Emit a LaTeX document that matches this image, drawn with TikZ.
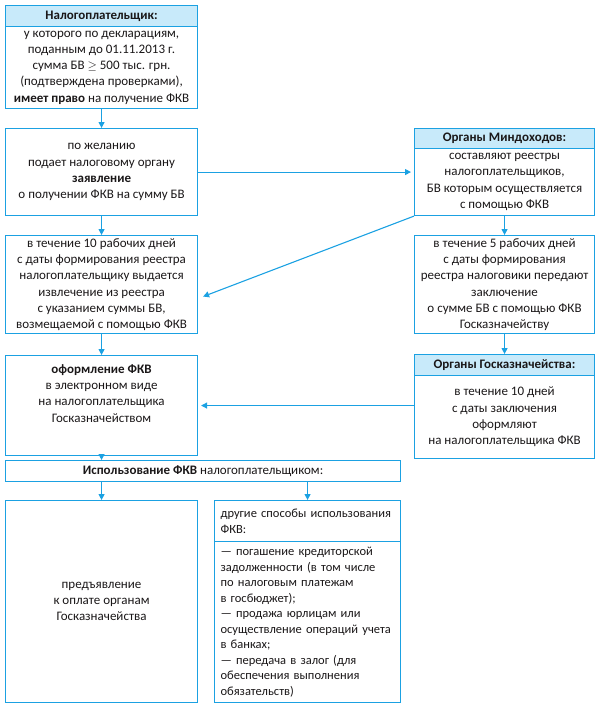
\documentclass[tikz,border=0pt]{standalone}
\usepackage{fontspec}
\setmainfont{Carlito}
\usetikzlibrary{arrows.meta,calc}
\definecolor{ln}{HTML}{1BA1E2}
\definecolor{hd}{HTML}{C8EAFA}
\definecolor{tx}{HTML}{1A1718}
\begin{document}
\begin{tikzpicture}[x=1pt,y=-1pt,
 box/.style={draw=ln,line width=1.1pt,anchor=north west,inner sep=0pt,align=center,text=tx,font=\fontsize{13}{16.3}\selectfont},
 hbox/.style={box,fill=hd,font=\bfseries\fontsize{13}{16}\selectfont},
 lbox/.style={box,align=left,inner xsep=6pt,text width=174pt,font=\fontsize{12.5}{15.5}\selectfont},
 arr/.style={draw=ln,line width=1.1pt,-{Triangle[width=6pt,length=6pt]}}]
\useasboundingbox (0,0) rectangle (599,705);
% left column
\node[hbox,minimum width=192pt,minimum height=21pt] (h1) at (5,5) {Налогоплательщик:};
\node[box,minimum width=192pt,minimum height=82pt] (b1) at (5,26) {у которого по декларациям,\\поданным до 01.11.2013 г.\\сумма БВ $\geq$ 500 тыс. грн.\\(подтверждена проверками),\\\textbf{имеет право} на получение ФКВ};
\node[box,minimum width=192pt,minimum height=87pt] (b2) at (5,128) {по желанию\\подает налоговому органу\\\textbf{заявление}\\о получении ФКВ на сумму БВ};
\node[box,minimum width=192pt,minimum height=98pt] (b3) at (5,235) {в течение 10 рабочих дней\\с даты формирования реестра\\налогоплательщику выдается\\извлечение из реестра\\с указанием суммы БВ,\\возмещаемой с помощью ФКВ};
\node[box,minimum width=192pt,minimum height=100pt] (b4) at (5,355) {\textbf{оформление ФКВ}\\в электронном виде\\на налогоплательщика\\Госказначейством\\[8pt]};
\node[box,minimum width=395pt,minimum height=21pt] (b5) at (5,460) {\textbf{Использование ФКВ} налогоплательщиком:};
\node[box,minimum width=192pt,minimum height=202pt] (b6) at (5,500) {предъявление\\к оплате органам\\Госказначейства};
\node[lbox,minimum height=41pt] (b7a) at (214,500) {другие способы использования\\ФКВ:};
\node[lbox,minimum height=161pt] (b7b) at (214,541) {— погашение кредиторской\\задолженности (в том числе\\по налоговым платежам\\в госбюджет);\\— продажа юрлицам или\\осуществление операций учета\\в банках;\\— передача в залог (для\\обеспечения выполнения\\обязательств)};
% right column
\node[hbox,minimum width=180pt,minimum height=20pt] (mh) at (414,128) {Органы Миндоходов:};
\node[box,minimum width=180pt,minimum height=67pt] (mb) at (414,148) {составляют реестры\\налогоплательщиков,\\БВ которым осуществляется\\с помощью ФКВ};
\node[box,minimum width=180pt,minimum height=98pt] (r2) at (414,235) {в течение 5 рабочих дней\\с даты формирования\\реестра налоговики передают\\заключение\\о сумме БВ с помощью ФКВ\\Госказначейству};
\node[hbox,minimum width=180pt,minimum height=21pt] (gh) at (414,354) {Органы Госказначейства:};
\node[box,minimum width=180pt,minimum height=83pt] (gb) at (414,375) {в течение 10 дней\\с даты заключения\\оформляют\\на налогоплательщика ФКВ};
% arrows
\draw[arr] (b1.south) -- (b2.north);
\draw[arr] (b2.south) -- (b3.north);
\draw[arr] (b3.south) -- (b4.north);
\draw[arr] (b4.south) -- (b4.south |- b5.north);
\draw[arr] (b5.south -| b6.north) -- (b6.north);
\draw[arr] (b5.south -| b7a.north) -- (b7a.north);
\draw[arr] (mb.south) -- (r2.north);
\draw[arr] (r2.south) -- (gh.north);
\draw[arr] (b2.east) -- ([xshift=-3pt]b2.east -| mb.west);
\draw[arr] (mb.south west) -- ([xshift=5pt,yshift=-12pt]b3.east);
\draw[arr] (gb.west |- b4.east) -- ([xshift=3pt]b4.east);
\end{tikzpicture}
\end{document}
